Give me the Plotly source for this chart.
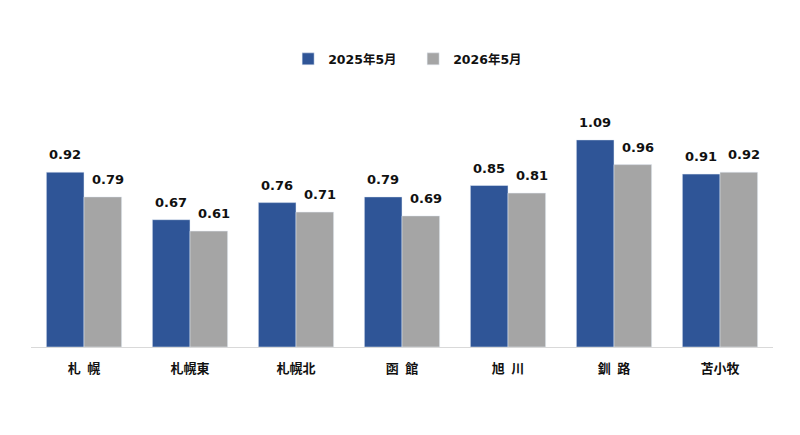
import plotly.graph_objects as go

# 地域別データ
areas = ["札\u2002幌", "札幌東", "札幌北", "函\u2002館", "旭\u2002川", "釧\u2002路", "苫小牧"]
may_2025 = [0.92, 0.67, 0.76, 0.79, 0.85, 1.09, 0.91]
may_2026 = [0.79, 0.61, 0.71, 0.69, 0.81, 0.96, 0.92]

font_family = "DejaVu Sans, Noto Sans CJK JP, sans-serif"

fig = go.Figure()
fig.add_trace(go.Bar(name="<b>2025年5月</b>", x=areas, y=may_2025, marker_color="#2F5597"))
fig.add_trace(go.Bar(name="<b>2026年5月</b>", x=areas, y=may_2026, marker_color="#A5A5A5"))

# 数値ラベル
for vals, dx in [(may_2025, -19), (may_2026, 24)]:
    for a, v in zip(areas, vals):
        fig.add_annotation(x=a, y=v, text=f"<b>{v:.2f}</b>", showarrow=False,
                           xshift=dx, yshift=8, yanchor="bottom",
                           font=dict(size=13, color="#111111"))

fig.update_layout(
    width=800, height=435,
    margin=dict(l=23, r=35, t=92, b=96),
    paper_bgcolor="white", plot_bgcolor="white",
    font=dict(family=font_family, size=12, color="#111111"),
    barmode="group", bargap=0.29, bargroupgap=0,
    showlegend=True,
    legend=dict(orientation="h", x=0.515, xanchor="center", y=1.165, yanchor="middle",
                font=dict(size=12.5), itemwidth=30, traceorder="normal",
                entrywidthmode="pixels", entrywidth=80),
    xaxis=dict(showline=True, linecolor="#D9D9D9", linewidth=1, ticks="",
               tickfont=dict(size=13, family="Noto Sans CJK JP"), showgrid=False,
               tickprefix="<b>", ticksuffix="</b>", ticklabelstandoff=9),
    yaxis=dict(range=[0, 1.3], visible=False, showgrid=False),
)

fig.write_html("out.html")
